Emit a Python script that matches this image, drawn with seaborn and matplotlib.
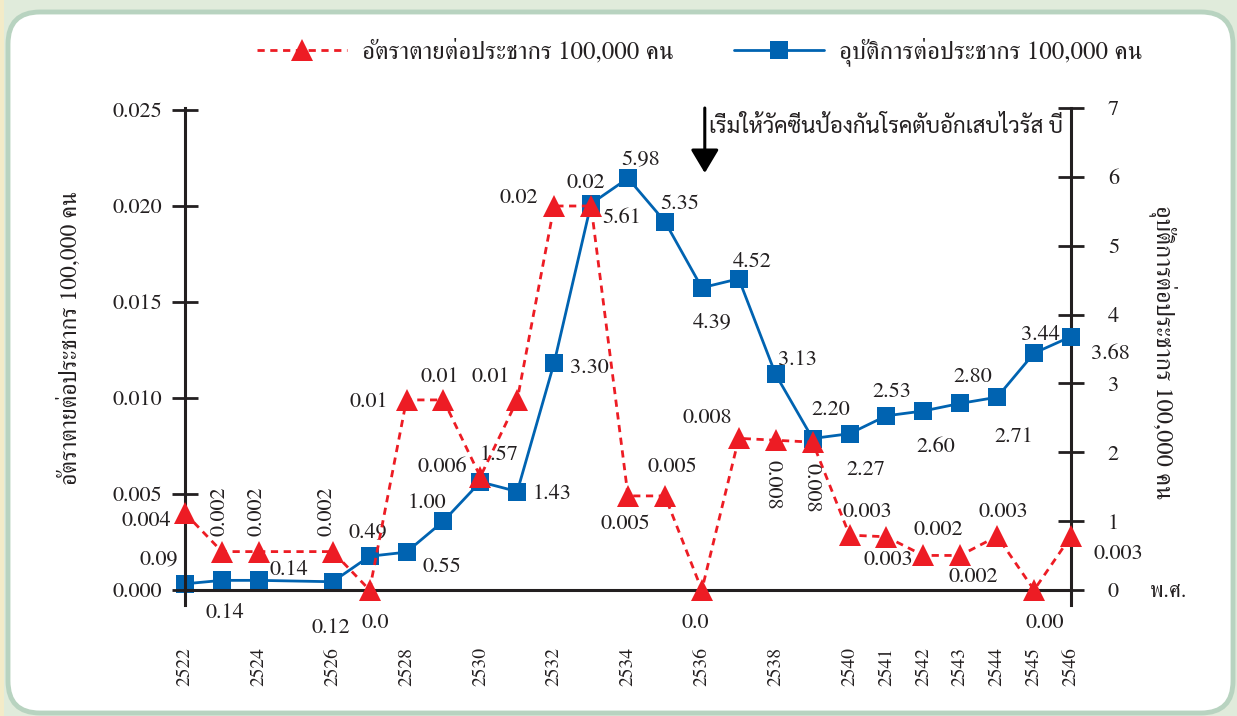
import matplotlib
matplotlib.use("Agg")
import matplotlib.pyplot as plt
import seaborn as sns
import pandas as pd
from matplotlib.patches import FancyBboxPatch, Rectangle
from matplotlib.font_manager import FontProperties

# ---------------- data ----------------
years = [2522, 2523, 2524, 2526, 2527, 2528, 2529, 2530, 2531, 2532, 2533, 2534,
         2535, 2536, 2537, 2538, 2539, 2540, 2541, 2542, 2543, 2544, 2545, 2546]
incidence = [0.09, 0.14, 0.14, 0.12, 0.49, 0.55, 1.00, 1.57, 1.43, 3.30, 5.61, 5.98,
             5.35, 4.39, 4.52, 3.13, 2.20, 2.27, 2.53, 2.60, 2.71, 2.80, 3.44, 3.68]
mortality = [0.0040, 0.0020, 0.0020, 0.0020, 0.0, 0.0099, 0.0099, 0.0059, 0.0099,
             0.0200, 0.0200, 0.0049, 0.0049, 0.0, 0.0079, 0.0078, 0.0077, 0.00286,
             0.00277, 0.0018, 0.0018, 0.0028, 0.0, 0.0028]
incidence_labels = ["0.09", "0.14", "0.14", "0.12", "0.49", "0.55", "1.00", "1.57",
                    "1.43", "3.30", "5.61", "5.98", "5.35", "4.39", "4.52", "3.13",
                    "2.20", "2.27", "2.53", "2.60", "2.80", "2.71", "3.44", "3.68"]
mortality_labels = ["0.004", "0.002", "0.002", "0.002", "0.0", "0.01", "0.01", "0.006",
                    "0.01", "0.02", "0.02", "0.005", "0.005", "0.0", "0.008", "0.008",
                    "0.008", "0.003", "0.003", "0.002", "0.002", "0.003", "0.00", "0.003"]
all_years = list(range(2522, 2547))
tick_years = [2522, 2524, 2526, 2528, 2530, 2532, 2534, 2536, 2538,
              2540, 2541, 2542, 2543, 2544, 2545, 2546]
left_ticks = [0.000, 0.005, 0.010, 0.015, 0.020, 0.025]
right_ticks = [0, 1, 2, 3, 4, 5, 6, 7]

mort_name = "อัตราตายต่อประชากร 100,000 คน"
inc_name = "อุบัติการต่อประชากร 100,000 คน"
vaccine_note = "เริ่มให้วัคซีนป้องกันโรคตับอักเสบไวรัส บี"
year_unit = "พ.ศ."

# ---------------- layout (label offsets in pixels) ----------------
inc_off = [(-26, 24), (3, -33), (30, 10), (-2, -46), (-2, 24), (35, -15), (-17, 18),
           (19, 27), (35, -3), (35, -5), (31, -14), (13, 18), (15, 17), (10, -35),
           (13, 17), (22, 14), (18, 28), (16, -36), (5, 24), (12, -36), (13, 26),
           (17, -40), (6, 18), (39, -18)]
mort_off = [(-39, -8), (-2, 40), (-2, 40), (-6, 40), (6, -33), (-38, -2), (-4, 23),
            (-38, 10), (-26, 23), (-35, 8), (-5, 23), (-3, -28), (7, 29), (-7, -33),
            (-31, 20), (-3, -45), (-1, -46), (18, 23), (2, -23), (15, 25), (13, -22),
            (6, 24), (11, -33), (47, -18)]
mort_rot = {1: 90, 2: 90, 3: 90, 15: 270, 16: 270}

RED = "#ed1c24"
BLUE = "#0063b1"
INK = "#231f20"

sns.set_style("white")
plt.rcParams["font.family"] = ["FreeSerif", "DejaVu Serif"]
plt.rcParams["text.color"] = INK
plt.rcParams["axes.labelcolor"] = INK
plt.rcParams["xtick.color"] = INK
plt.rcParams["ytick.color"] = INK

df = pd.DataFrame({"year": years, "incidence": incidence, "mortality": mortality})

fig = plt.figure(figsize=(12.37, 7.16), dpi=100)
fig.patch.set_facecolor("#e0ebdb")
fig.add_artist(Rectangle((0, 0), 4, 716, transform=None, facecolor="#f3ebc8",
                         edgecolor="none", zorder=-20))
fig.add_artist(FancyBboxPatch((8, 3), 1225, 701, boxstyle="round,pad=0,rounding_size=32",
                              transform=None, facecolor="white", edgecolor="#b8d3c0",
                              linewidth=3.5, zorder=-10))

ax = fig.add_axes([185 / 1237, 1 - 605 / 716, 886 / 1237, 497 / 716])
ax2 = ax.twinx()
ax.set_zorder(ax2.get_zorder() + 1)
ax.patch.set_visible(False)
ax2.patch.set_visible(False)

sns.lineplot(data=df, x="year", y="incidence", ax=ax2, color=BLUE, marker="s",
             markersize=13, markeredgewidth=0, linewidth=2.0, clip_on=False,
             legend=False, zorder=3)
sns.lineplot(data=df, x="year", y="mortality", ax=ax, color=RED, marker="^",
             markersize=16, markeredgewidth=0, linewidth=2.0, clip_on=False,
             legend=False, zorder=4)
red_line = ax.get_lines()[0]
red_line.set_dashes((2.6, 2.0))
blue_line = ax2.get_lines()[0]

px = 19200.0
ax.set_xlim(2522, 2546)
ax.set_ylim(-15 / px, 0.025 + 2 / px)
ax2.set_ylim(-15 / 68.86, 7.0)

# spines
for s in ["top", "right"]:
    ax.spines[s].set_visible(False)
for s in ["top", "bottom", "left"]:
    ax2.spines[s].set_visible(False)
ax.spines["bottom"].set_position(("data", 0))
for sp in [ax.spines["left"], ax.spines["bottom"], ax2.spines["right"]]:
    sp.set_linewidth(2.2)
    sp.set_color(INK)

# x ticks
ax.set_xticks(all_years)
ax.set_xticklabels([str(y) if y in tick_years else "" for y in all_years],
                   rotation=90, fontsize=14)
ax.set_xticks(all_years, minor=True)
ax.xaxis.remove_overlapping_locs = False
ax.tick_params(axis="x", which="major", direction="out", length=12, width=2.0, pad=29)
ax.tick_params(axis="x", which="minor", direction="in", length=5, width=2.0)
ax.set_xlabel("")

# y ticks
ax.set_yticks(left_ticks)
ax.set_yticklabels([f"{v:.3f}" for v in left_ticks], fontsize=16)
ax.tick_params(axis="y", direction="inout", length=19, width=2.0, pad=7)
ax.set_ylabel("")
ax2.set_yticks(right_ticks)
ax2.set_yticklabels([str(v) for v in right_ticks], fontsize=16)
ax2.tick_params(axis="y", direction="inout", length=19, width=2.0, pad=17)
ax2.set_ylabel("")

# value labels
for i, (x, v) in enumerate(zip(years, incidence)):
    dx, dy = inc_off[i]
    ax2.annotate(incidence_labels[i], xy=(x, v), xytext=(dx, dy),
                 textcoords="offset pixels", ha="center", va="center",
                 fontsize=16, annotation_clip=False, zorder=6)
for i, (x, v) in enumerate(zip(years, mortality)):
    dx, dy = mort_off[i]
    ax.annotate(mortality_labels[i], xy=(x, v), xytext=(dx, dy),
                textcoords="offset pixels", ha="center", va="center",
                rotation=mort_rot.get(i, 0), fontsize=16,
                annotation_clip=False, zorder=6)

# year unit
ax.annotate(year_unit, xy=(all_years[-1], 0), xytext=(97, -2), textcoords="offset pixels",
            ha="center", va="center", fontsize=16, annotation_clip=False)

# vaccine arrow
ax.annotate("", xy=(2536.08, (590 - 173) / px), xytext=(2536.08, 0.025 + 2 / px),
            arrowprops=dict(arrowstyle="-|>,head_length=0.72,head_width=0.43",
                            mutation_scale=20, lw=2.2, color="black",
                            shrinkA=0, shrinkB=0), annotation_clip=False)
fig.text(709 / 1237, 1 - 127 / 716, vaccine_note, ha="left", va="center", fontsize=16,
         family=["Sarabun", "IBM Plex Sans Thai Looped", "FreeSerif"])

# axis titles
fig.text(70 / 1237, 1 - 338 / 716, mort_name, rotation=90, ha="center", va="center",
         fontsize=17)
fig.text(1163 / 1237, 1 - 352 / 716, inc_name, rotation=270, ha="center", va="center",
         fontsize=17.5)

# legend
fig.legend(handles=[red_line, blue_line], labels=[mort_name, inc_name], loc="center",
           bbox_to_anchor=(700 / 1237, 1 - 52 / 716), ncol=2, frameon=False,
           handlelength=3.6, handletextpad=0.6, columnspacing=2.4,
           prop=FontProperties(family="FreeSerif", size=18))

fig.savefig("out.png", dpi=100)
